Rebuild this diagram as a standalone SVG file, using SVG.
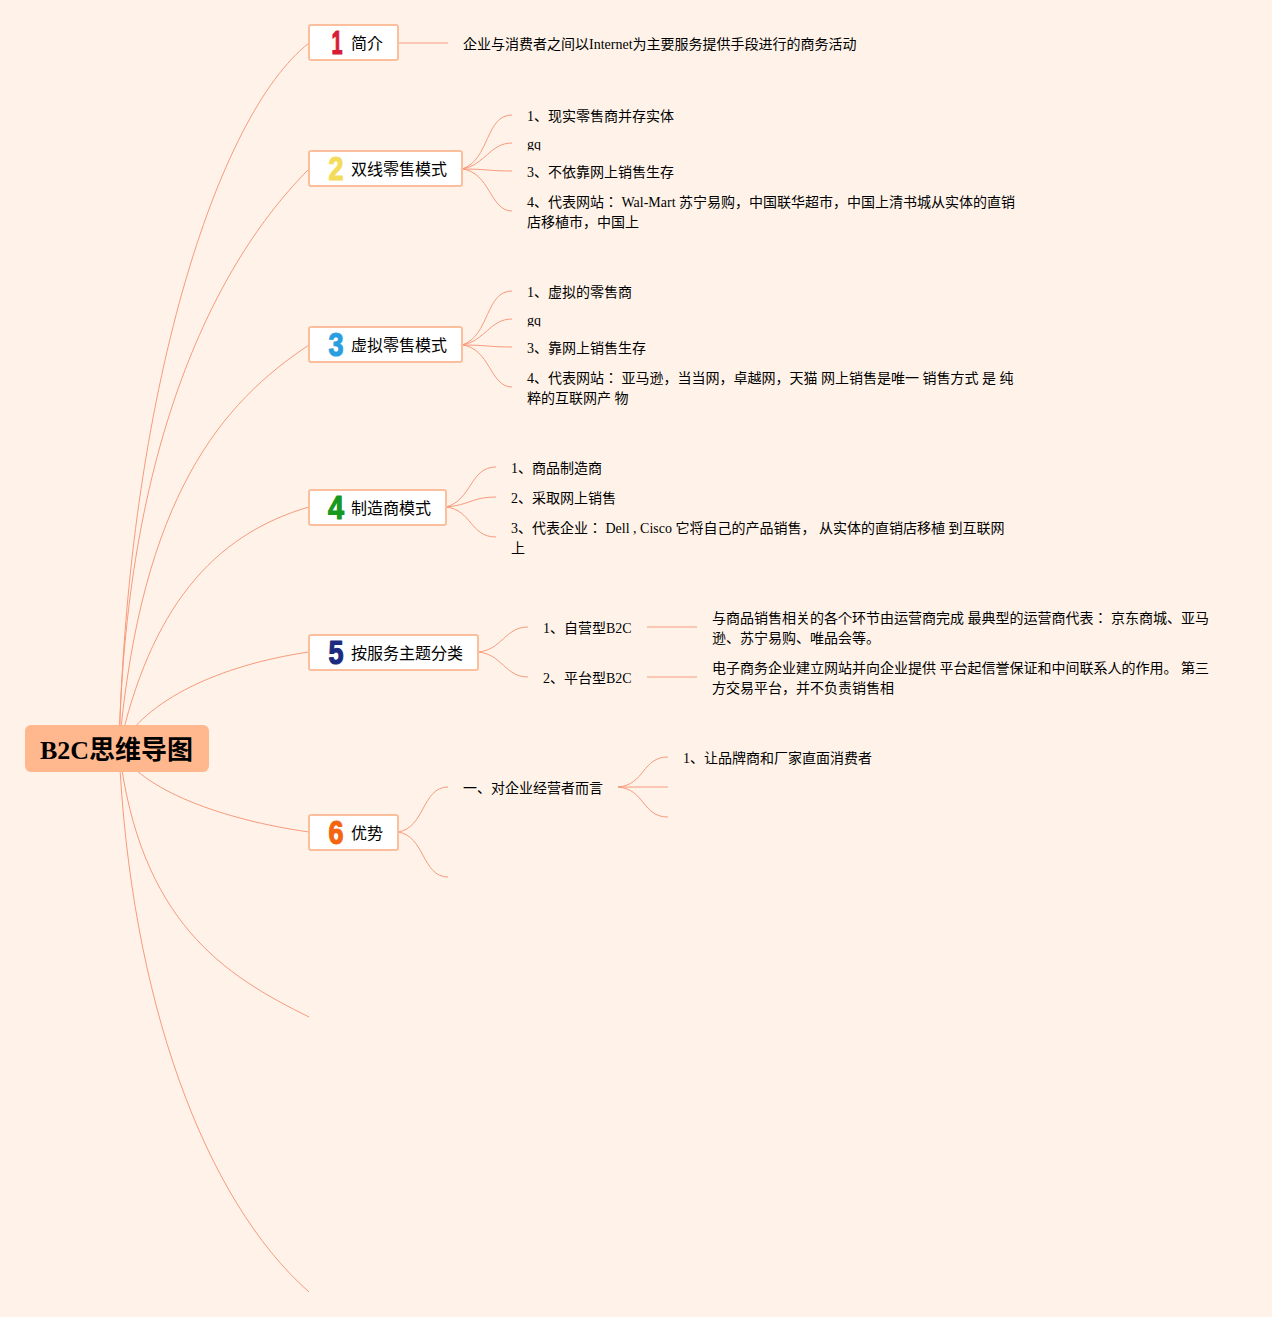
<svg xmlns="http://www.w3.org/2000/svg" width="1272" height="1317" viewBox="0 0 1272 1317">
<style>
text{font-family:"Liberation Serif","Noto Sans CJK JP",serif;font-size:14px;fill:#000}
.c{fill:none;stroke:#f79a7c;stroke-width:1}
.n rect{fill:#fff;stroke:#fbbf9e;stroke-width:2}
.n text.l{font-size:16px}
.d{font-family:"Liberation Sans",sans-serif;font-size:33px;font-weight:700;stroke-width:1.2;stroke-linejoin:round;text-anchor:middle}
</style>
<defs>
<clipPath id="g1"><rect x="520" y="136" width="30" height="14.5"/></clipPath>
<clipPath id="g2"><rect x="520" y="312" width="30" height="14.5"/></clipPath>
</defs>
<rect width="1272" height="1317" fill="#fff3e9"/>
<g id="connectors">
<path class="c" d="M119 749C128 394 217 115 309 43"/>
<path class="c" d="M119 749C126 427 225 253 309 169"/>
<path class="c" d="M119 749C141 495 223 402 309 345"/>
<path class="c" d="M119 749C150 610 212 535 309 507"/>
<path class="c" d="M119 749C145 700 220 665 309 652"/>
<path class="c" d="M119 749C140 790 224 820 309 832"/>
<path class="c" d="M119 749C140 922 224 975 309 1017"/>
<path class="c" d="M119 749C130 1000 205 1200 309 1292"/>
<path class="c" d="M398 43H448"/>
<path class="c" d="M462 169C490 160 485 115 512 115"/>
<path class="c" d="M462 169C485 165 490 143 512 143"/>
<path class="c" d="M462 169C485 169 490 171 512 171"/>
<path class="c" d="M462 169C490 172 490 211 512 211"/>
<path class="c" d="M462 345C490 336 485 291 512 291"/>
<path class="c" d="M462 345C485 341 490 319 512 319"/>
<path class="c" d="M462 345C485 345 490 347 512 347"/>
<path class="c" d="M462 345C490 348 490 387 512 387"/>
<path class="c" d="M446 507C472 500 470 467 496 467"/>
<path class="c" d="M446 507C470 505 472 497 496 497"/>
<path class="c" d="M446 507C472 510 470 537 496 537"/>
<path class="c" d="M478 652C502 650 505 627 528 627"/>
<path class="c" d="M478 652C502 654 505 677 528 677"/>
<path class="c" d="M647 627H697"/>
<path class="c" d="M647 677H697"/>
<path class="c" d="M398 832C425 828 422 787 448 787"/>
<path class="c" d="M398 832C425 836 422 877 448 877"/>
<path class="c" d="M618 787C645 785 642 757 668 757"/>
<path class="c" d="M618 787H668"/>
<path class="c" d="M618 787C645 789 642 817 668 817"/>
</g>
<g id="root"><rect x="25" y="725" width="184" height="47" rx="6" fill="#ffb88e"/><text x="40" y="759" style="font-size:26px;font-weight:700">B2C思维导图</text></g>
<g id="n1" class="n"><rect x="309" y="25" width="89" height="35" rx="2"/><text class="d" x="337" y="54" stroke="#d81b36" style="fill:#d81b36" textLength="11" lengthAdjust="spacingAndGlyphs">1</text><text class="l" x="351" y="49">简介</text></g>
<g id="n2" class="n"><rect x="309" y="151" width="153" height="35" rx="2"/><text class="d" x="336" y="180" stroke="#f4dc5a" style="fill:#f4dc5a" textLength="15" lengthAdjust="spacingAndGlyphs">2</text><text class="l" x="351" y="175">双线零售模式</text></g>
<g id="n3" class="n"><rect x="309" y="327" width="153" height="35" rx="2"/><text class="d" x="336" y="356" stroke="#2a9fe0" style="fill:#2a9fe0" textLength="15" lengthAdjust="spacingAndGlyphs">3</text><text class="l" x="351" y="351">虚拟零售模式</text></g>
<g id="n4" class="n"><rect x="309" y="490" width="137" height="35" rx="2"/><text class="d" x="336" y="519" stroke="#17981f" style="fill:#17981f" textLength="16" lengthAdjust="spacingAndGlyphs">4</text><text class="l" x="351" y="514">制造商模式</text></g>
<g id="n5" class="n"><rect x="309" y="635" width="169" height="35" rx="2"/><text class="d" x="336" y="664" stroke="#1c2a80" style="fill:#1c2a80" textLength="15" lengthAdjust="spacingAndGlyphs">5</text><text class="l" x="351" y="659">按服务主题分类</text></g>
<g id="n6" class="n"><rect x="309" y="815" width="89" height="35" rx="2"/><text class="d" x="336" y="844" stroke="#f5650f" style="fill:#f5650f" textLength="15" lengthAdjust="spacingAndGlyphs">6</text><text class="l" x="351" y="839">优势</text></g>
<g id="t1"><text x="463" y="49">企业与消费者之间以Internet为主要服务提供手段进行的商务活动</text></g>
<g id="t2"><text x="527" y="121">1、现实零售商并存实体</text><text x="527" y="149" clip-path="url(#g1)">gq</text><text x="527" y="177">3、不依靠网上销售生存</text><text x="527" y="207">4、代表网站： Wal-Mart 苏宁易购，中国联华超市，中国上清书城从实体的直销</text><text x="527" y="227">店移植市，中国上</text></g>
<g id="t3"><text x="527" y="297">1、虚拟的零售商</text><text x="527" y="325" clip-path="url(#g2)">gq</text><text x="527" y="353">3、靠网上销售生存</text><text x="527" y="383">4、代表网站： 亚马逊，当当网，卓越网，天猫 网上销售是唯一 销售方式 是 纯</text><text x="527" y="403">粹的互联网产 物</text></g>
<g id="t4"><text x="511" y="473">1、商品制造商</text><text x="511" y="503">2、采取网上销售</text><text x="511" y="533">3、代表企业： Dell , Cisco 它将自己的产品销售， 从实体的直销店移植 到互联网</text><text x="511" y="553">上</text></g>
<g id="t5"><text x="543" y="633">1、自营型B2C</text><text x="543" y="683">2、平台型B2C</text><text x="712" y="623">与商品销售相关的各个环节由运营商完成 最典型的运营商代表： 京东商城、亚马</text><text x="712" y="643">逊、苏宁易购、唯品会等。</text><text x="712" y="673">电子商务企业建立网站并向企业提供 平台起信誉保证和中间联系人的作用。 第三</text><text x="712" y="693">方交易平台，并不负责销售相</text></g>
<g id="t6"><text x="463" y="793">一、对企业经营者而言</text><text x="683" y="763">1、让品牌商和厂家直面消费者</text></g>
</svg>
